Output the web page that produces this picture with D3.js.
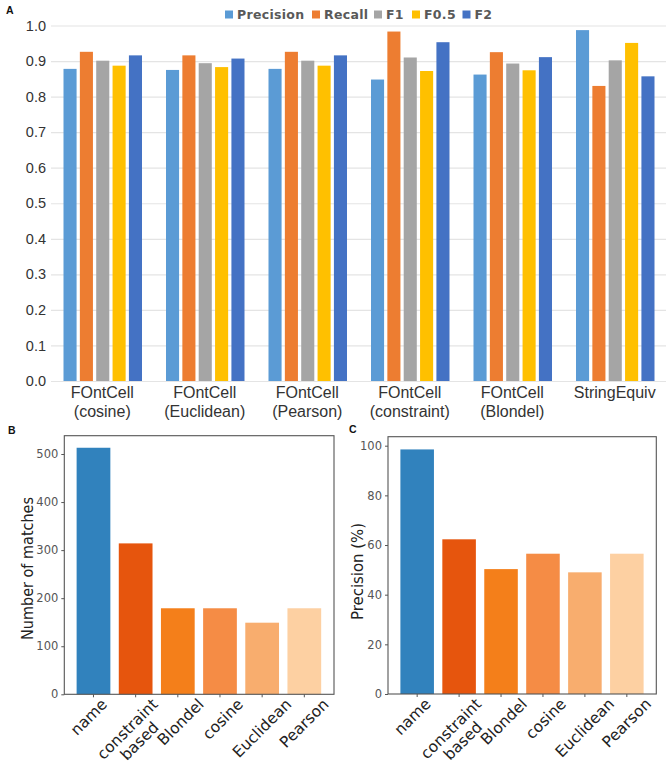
<!DOCTYPE html>
<html><head><meta charset="utf-8">
<script src="https://cdnjs.cloudflare.com/ajax/libs/d3/7.8.5/d3.min.js"></script>
<style>html,body{margin:0;padding:0;background:#fff}svg{display:block}</style>
</head><body><svg id="c" width="669" height="763"></svg>
<script>
const groups = [["FOntCell","(cosine)"],["FOntCell","(Euclidean)"],["FOntCell","(Pearson)"],["FOntCell","(constraint)"],["FOntCell","(Blondel)"],["StringEquiv"]];
const seriesNames = ["Precision","Recall","F1","F0.5","F2"];
const seriesColors = ["#5B9BD5","#ED7D31","#A5A5A5","#FFC000","#4472C4"];
const precision = [0.878,0.875,0.878,0.848,0.862,0.987];
const recall = [0.926,0.916,0.926,0.983,0.925,0.830];
const f1 = [0.901,0.894,0.901,0.910,0.893,0.902];
const f05 = [0.887,0.883,0.887,0.872,0.874,0.951];
const f2 = [0.916,0.907,0.916,0.953,0.911,0.857];
const yTicksA = [0,0.1,0.2,0.3,0.4,0.5,0.6,0.7,0.8,0.9,1.0];
const methods = [["name"],["constraint","based"],["Blondel"],["cosine"],["Euclidean"],["Pearson"]];
const methodColors = ["#3182BD","#E6550D","#F47F1A","#F58C45","#F8AD6E","#FDD0A2"];
const matches = [513,314,179,179,149,179];
const precisionPct = [98.5,62.3,50.3,56.5,49,56.5];
const yTicksB = [0,100,200,300,400,500];
const yTicksC = [0,20,40,60,80,100];
const labelShift = [-4.5,-2,3,3,0,0];

const svg = d3.select("#c");
const allSeries = [precision,recall,f1,f05,f2];
const SANS = "'Liberation Sans',Arial,sans-serif", DV = "'DejaVu Sans',sans-serif";

/* Panel A */
const xA = d3.scaleBand().domain(d3.range(groups.length)).range([51,666]);
const xInner = d3.scaleBand().domain(d3.range(5)).range([12.5,91]).paddingInner(0.2).paddingOuter(0);
const yA = d3.scaleLinear().domain([0,1]).range([381,25.5]);
const a = svg.append("g");
const ay = a.append("g").attr("transform","translate(51,0)")
  .call(d3.axisLeft(yA).tickValues(yTicksA).tickFormat(d3.format(".1f")).tickSize(-615).tickPadding(5));
ay.select(".domain").remove();
ay.selectAll("line").attr("stroke","#e4e4e4").attr("stroke-width",1.2);
ay.selectAll("text").attr("font-family",SANS).attr("font-size",14.5).attr("fill","#333").attr("x",-5);
seriesNames.forEach((n,s)=>{
  a.append("g").selectAll("rect").data(allSeries[s]).join("rect")
    .attr("x",(d,i)=>xA(i)+xInner(s)).attr("width",xInner.bandwidth())
    .attr("y",d=>yA(d)).attr("height",d=>yA(0)-yA(d)).attr("fill",seriesColors[s]);
});
const ax = a.append("g").attr("transform","translate(0,381)")
  .call(d3.axisBottom(xA).tickSize(0).tickFormat(""));
ax.select(".domain").remove();
ax.selectAll(".tick").each(function(i){
  const t = d3.select(this).select("text").attr("y",0).attr("dy",null)
    .attr("font-family",SANS).attr("font-size",16).attr("fill","#333");
  groups[i].forEach((l,k)=>t.append("tspan").attr("x",0).attr("y",17+k*19).text(l));
});
const legendX = [225,312,374,412,462.5];
seriesNames.forEach((n,s)=>{
  a.append("rect").attr("x",legendX[s]).attr("y",10.5).attr("width",8).attr("height",8).attr("fill",seriesColors[s]);
  a.append("text").attr("x",legendX[s]+12).attr("y",19).attr("font-family",DV).attr("font-weight","bold")
    .attr("font-size",12.5).attr("letter-spacing",0.3).attr("fill","#595959").text(n);
});
[["A",6,14],["B",8,434],["C",349,433]].forEach(([l,x,y])=>{
  svg.append("text").attr("x",x).attr("y",y).attr("font-family",SANS).attr("font-weight","bold")
    .attr("font-size",10.5).attr("fill","#111").text(l);
});

/* Panels B and C */
function panel(vals,ticks,title,frame,band,y0,yTop,dom,titleX,titleY,titleLen){
  const x = d3.scaleBand().domain(d3.range(methods.length)).range(band).paddingInner(0.2).paddingOuter(0.1);
  const y = d3.scaleLinear().domain(dom).range([y0,yTop]);
  const g = svg.append("g");
  g.selectAll("rect.bar").data(vals).join("rect").attr("class","bar")
    .attr("x",(d,i)=>x(i)).attr("width",x.bandwidth()).attr("y",d=>y(d)).attr("height",d=>y0-y(d))
    .attr("fill",(d,i)=>methodColors[i]);
  g.append("rect").attr("x",frame[0]).attr("y",frame[1]).attr("width",frame[2]-frame[0]).attr("height",frame[3]-frame[1])
    .attr("fill","none").attr("stroke","#555").attr("stroke-width",1.1);
  const gy = g.append("g").attr("transform",`translate(${frame[0]},0)`)
    .call(d3.axisLeft(y).tickValues(ticks).tickSize(3).tickPadding(3));
  gy.select(".domain").remove();
  gy.selectAll("line").attr("stroke","#555");
  gy.selectAll("text").attr("font-family",DV).attr("font-size",11.5).attr("fill","#555");
  const gx = g.append("g").attr("transform",`translate(0,${y0})`)
    .call(d3.axisBottom(x).tickSize(3).tickFormat(""));
  gx.select(".domain").remove();
  gx.selectAll("line").attr("stroke","#555");
  gx.selectAll(".tick").each(function(i){
    const t = d3.select(this).select("text").attr("y",0).attr("dy",null)
      .attr("text-anchor","middle").attr("font-family",DV).attr("font-size",15.5).attr("fill","#222");
    methods[i].forEach((l,k)=>t.append("tspan").attr("x",0).attr("y",k*17).text(l));
    t.attr("transform","rotate(-45)");
    const r = t.node().getBoundingClientRect();
    const origin = this.getCTM();
    const cx = (r.left+r.right)/2 - origin.e, top = r.top - origin.f;
    t.attr("transform",`translate(${labelShift[i]-cx},${1-top}) rotate(-45)`);
  });
  g.append("text").attr("text-anchor","middle").attr("transform",`translate(${titleX},${titleY}) rotate(-90)`)
    .attr("font-family",DV).attr("font-size",16).attr("textLength",titleLen).attr("lengthAdjust","spacingAndGlyphs")
    .attr("fill","#222").text(title);
}
panel(matches,yTicksB,"Number of matches",[64.3,435.7,334,694.3],[72.4,325.4],694.3,454,[0,500],33,568.5,143);
panel(precisionPct,yTicksC,"Precision (%)",[388,436.7,656.3,694],[396.2,647.8],694,445.7,[0,100],363,571.5,97);
</script></body></html>
